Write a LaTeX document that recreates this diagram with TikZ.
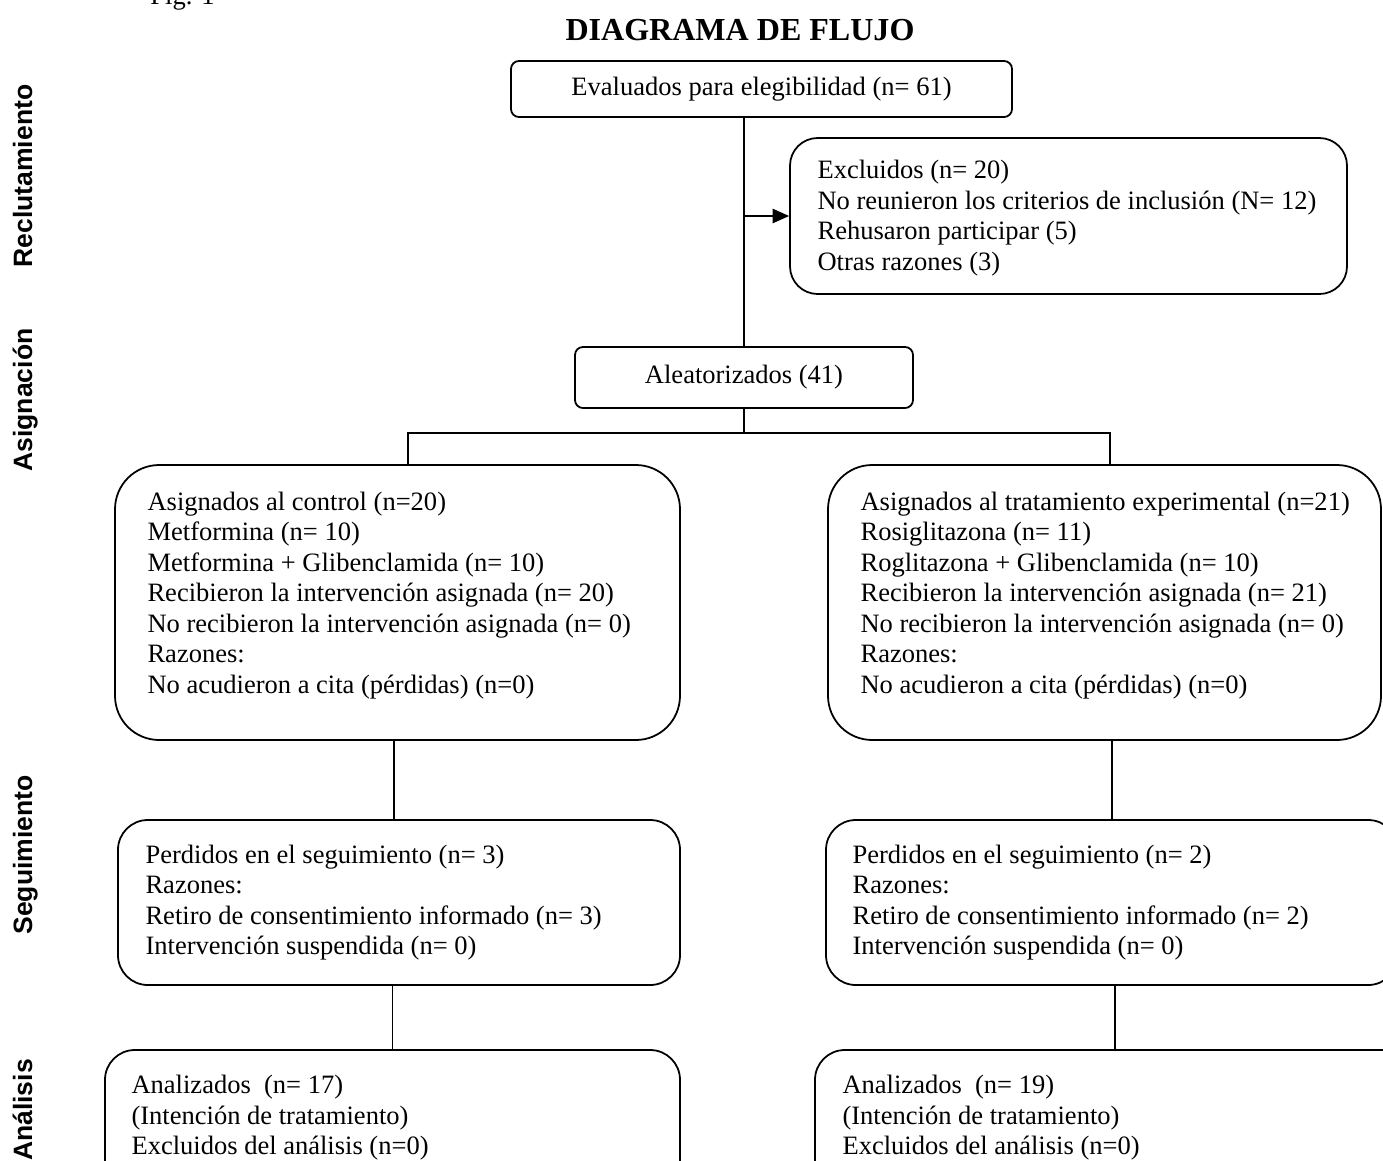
\documentclass[tikz,border=0pt]{standalone}
\usepackage{fontspec}
\setmainfont{Liberation Serif}
\setsansfont{Liberation Sans}
\usetikzlibrary{arrows.meta,positioning,calc}
\newcommand{\pxu}{0.4525pt}
\tikzset{
  caja/.style={draw, line width=0.8pt, rounded corners=#1},
  caja/.default=3.6pt,
  texto/.style={inner sep=0pt, align=left},
  etapa/.style={font=\fontsize{12}{14}\selectfont\sffamily\bfseries, rotate=90, anchor=base, inner sep=0pt},
  linea/.style={line width=0.8pt},
  flecha/.style={line width=0.8pt, -{Triangle[length=7.5pt,width=6.5pt]}}
}

\begin{document}
\begin{tikzpicture}[x=\pxu, y=-\pxu, font=\fontsize{12}{13.8}\selectfont]
\useasboundingbox (0,0) rectangle (1383,1161);
% title
 \node[anchor=base west, inner sep=0pt] (fig) at (150,4) {Fig. 1};
 \node[anchor=base, inner sep=0pt, font=\fontsize{14.5}{16}\selectfont\bfseries] (titulo) at (740,40) {DIAGRAMA DE FLUJO};
% stages
 \node[etapa] (recl) at (32,176) {Reclutamiento};
 \node[etapa] (asig) at (32,400) {Asignación};
 \node[etapa] (segu) at (32,855) {Seguimiento};
 \node[etapa] (anal) at (32,1110) {Análisis};
% boxes
 \node[caja, minimum width=501*\pxu, minimum height=56*\pxu] (eval) at (761.5,89) {Evaluados para elegibilidad (n= 61)};
 \node[caja=12.5pt, minimum width=557*\pxu, minimum height=156*\pxu] (excl) at (1068.5,216) {};
 \node[texto, anchor=west] (excltxt) at ($(excl.west)+(28,2)$) {Excluidos (n= 20)\\ No reunieron los criterios de inclusión (N= 12)\\ Rehusaron participar (5)\\ Otras razones (3)};
 \node[caja, minimum width=338*\pxu, minimum height=61*\pxu] (alea) at (744,377.5) {Aleatorizados (41)};
 \node[caja=20pt, minimum width=565*\pxu, minimum height=275*\pxu] (ctrl) at (397.5,602.5) {};
 \node[texto, anchor=west] (ctrltxt) at ($(ctrl.west)+(33,-7)$) {Asignados al control (n=20)\\ Metformina (n= 10)\\ Metformina + Glibenclamida (n= 10)\\ Recibieron la intervención asignada (n= 20)\\ No recibieron la intervención asignada (n= 0)\\ Razones:\\ No acudieron a cita (pérdidas) (n=0)};
 \node[caja=20pt, minimum width=553*\pxu, minimum height=275*\pxu] (trat) at (1104.5,602.5) {};
 \node[texto, anchor=west] (trattxt) at ($(trat.west)+(33,-7)$) {Asignados al tratamiento experimental (n=21)\\ Rosiglitazona (n= 11)\\ Roglitazona + Glibenclamida (n= 10)\\ Recibieron la intervención asignada (n= 21)\\ No recibieron la intervención asignada (n= 0)\\ Razones:\\ No acudieron a cita (pérdidas) (n=0)};
 \node[caja=13.5pt, minimum width=562*\pxu, minimum height=165*\pxu] (segL) at (399,902.5) {};
 \node[texto, anchor=west] (segLtxt) at ($(segL.west)+(28,0)$) {Perdidos en el seguimiento (n= 3)\\ Razones:\\ Retiro de consentimiento informado (n= 3)\\ Intervención suspendida (n= 0)};
 \node[caja=13.5pt, minimum width=572*\pxu, minimum height=165*\pxu] (segR) at (1112,902.5) {};
 \node[texto, anchor=west] (segRtxt) at ($(segR.west)+(27,0)$) {Perdidos en el seguimiento (n= 2)\\ Razones:\\ Retiro de consentimiento informado (n= 2)\\ Intervención suspendida (n= 0)};
 \node[caja=13.5pt, minimum width=575*\pxu, minimum height=140*\pxu] (anaL) at (392.5,1120) {};
 \node[texto, anchor=north west] (anaLtxt) at ($(anaL.north west)+(27,26)$) {Analizados~ (n= 17)\\ (Intención de tratamiento)\\ Excluidos del análisis (n=0)};
 \node[caja=13.5pt, minimum width=600*\pxu, minimum height=140*\pxu] (anaR) at (1115,1120) {};
 \node[texto, anchor=north west] (anaRtxt) at ($(anaR.north west)+(28,26)$) {Analizados~ (n= 19)\\ (Intención de tratamiento)\\ Excluidos del análisis (n=0)};
% edges
 \coordinate (divL) at (408,433);
 \coordinate (divR) at (1110,433);
 \draw[linea] (eval.south -| alea.north) -- (alea.north);
 \draw[flecha] (excl.west -| alea.north) -- (excl.west);
 \draw[linea] (alea.south) -- (alea.south |- divL);
 \draw[linea] (ctrl.north -| divL) -- (divL) -- (divR) -- (trat.north -| divR);
 \draw[linea] ([xshift=-3.5*\pxu]ctrl.south) -- ([xshift=-5*\pxu]segL.north);
 \draw[linea] (segR.north |- trat.south) -- (segR.north);
 \draw[linea] (anaL.north |- segL.south) -- (anaL.north);
 \draw[linea] (anaR.north |- segR.south) -- (anaR.north);
\end{tikzpicture}
\end{document}
